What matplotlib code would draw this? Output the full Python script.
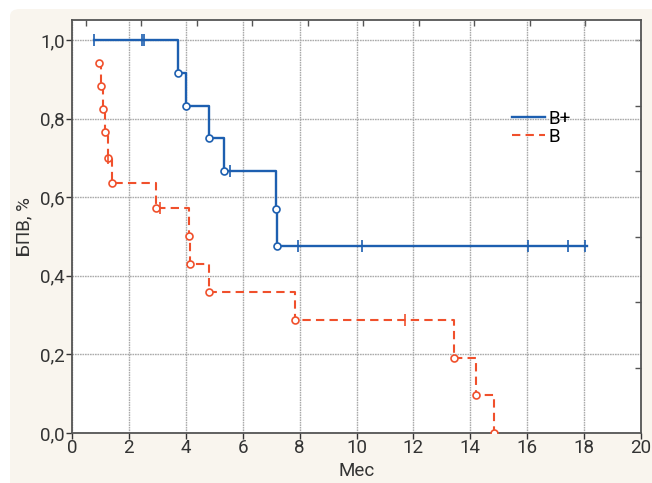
import matplotlib
matplotlib.use("Agg")
import matplotlib.pyplot as plt
from matplotlib.patches import FancyBboxPatch
from matplotlib.lines import Line2D

plt.rcParams['font.family'] = ['Roboto', 'DejaVu Sans']

# ---- data ----
bplus_start = 0.78
bplus_end = 18.1
bplus_times = [3.72, 4.0, 4.82, 5.34, 7.17, 7.22]
bplus_surv = [0.917, 0.833, 0.750, 0.667, 0.571, 0.476]
bplus_censor_t = [0.78, 2.46, 2.53, 5.55, 7.94, 10.2, 16.03, 17.43, 18.02]

b_times = [0.95, 1.02, 1.10, 1.15, 1.26, 1.40, 2.95, 4.12, 4.15, 4.82, 7.84, 13.43, 14.2, 14.83]
b_surv = [0.941, 0.882, 0.824, 0.765, 0.701, 0.637, 0.573, 0.501, 0.430, 0.358, 0.287, 0.191, 0.096, 0.0]
b_censor_t = [1.27, 3.1, 11.7]

series_labels = ['В+', 'В']
x_ticks = [0, 2, 4, 6, 8, 10, 12, 14, 16, 18, 20]
y_ticks = [0.0, 0.2, 0.4, 0.6, 0.8, 1.0]
y_ticklabels = ['0,0', '0,2', '0,4', '0,6', '0,8', '1,0']
top_minor = [0.49, 2.44, 4.39, 6.34, 8.29, 10.24, 12.19, 14.14, 16.09, 18.04]
right_minor = [1/6, 2/6, 3/6, 4/6, 5/6, 1.0]

BLUE = '#1d5fb0'
RED = '#f0502c'
CREAM = '#f9f5ee'
FS = 13.5

fig = plt.figure(figsize=(6.52, 4.83), dpi=100, facecolor='white')
bg = FancyBboxPatch((10/652, -0.05), 1.1, 1.05 - 9/483, boxstyle='round,pad=0,rounding_size=0.015',
                    transform=fig.transFigure, facecolor=CREAM, edgecolor='none', zorder=-10)
fig.patches.append(bg)

ax = fig.add_axes([72/652, 50/483, 569/652, 413/483])
ax.set_facecolor('white')


def level_at(times, surv, start_level, t):
    lvl = start_level
    for ti, si in zip(times, surv):
        if ti <= t:
            lvl = si
    return lvl

# B+ curve
bx = [bplus_start] + bplus_times + [bplus_end]
by = [1.0] + bplus_surv + [bplus_surv[-1]]
ax.plot(bx, by, drawstyle='steps-post', color=BLUE, lw=1.7, zorder=3)
ax.plot(bplus_times, bplus_surv, 'o', ms=5, mfc='white', mec=BLUE, mew=1.2, zorder=4)
ax.plot(bplus_censor_t, [level_at(bplus_times, bplus_surv, 1.0, t) for t in bplus_censor_t],
        '|', ms=8, color=BLUE, mew=1.2, zorder=4)

# B curve
ax.plot(b_times, b_surv, drawstyle='steps-post', color=RED, lw=1.5, ls=(0, (4, 2.5)), zorder=3)
ax.plot(b_times, b_surv, 'o', ms=5, mfc='white', mec=RED, mew=1.2, zorder=4)
ax.plot(b_censor_t, [level_at(b_times, b_surv, 1.0, t) for t in b_censor_t],
        '|', ms=8, color=RED, mew=1.2, zorder=4)

ax.set_xlim(0, 20)
ax.set_ylim(0, 1.051)
ax.set_xticks(x_ticks)
ax.set_yticks(y_ticks)
ax.set_yticklabels(y_ticklabels)
ax.grid(True, color='#ababab', lw=1.0, ls=(0, (1.2, 0.6)))
ax.set_axisbelow(True)
for s in ax.spines.values():
    s.set_color('#555555')
    s.set_linewidth(1.3)
ax.tick_params(axis='both', labelsize=FS, colors='#333333', length=4, width=1, direction='out', pad=1)
ax.tick_params(axis='x', pad=0)

secx = ax.secondary_xaxis('top')
secx.set_xticks(top_minor)
secx.set_xticklabels([])
secx.tick_params(direction='in', length=4, width=1, colors='#555555')
secx.spines['top'].set_visible(False)
secy = ax.secondary_yaxis('right')
secy.set_yticks(right_minor)
secy.set_yticklabels([])
secy.tick_params(direction='in', length=4, width=1, colors='#555555')
secy.spines['right'].set_visible(False)

ax.set_xlabel('Мес', fontsize=FS, color='#333333', labelpad=4)
ax.set_ylabel('БПВ, %', fontsize=FS, color='#333333', labelpad=5)

handles = [Line2D([0], [0], color=BLUE, lw=1.7),
           Line2D([0], [0], color=RED, lw=1.5, ls=(0, (4, 2.5)))]
ax.legend(handles, series_labels, loc='upper left', bbox_to_anchor=(0.773, 0.782), frameon=False,
          fontsize=FS, handlelength=1.75, handletextpad=0.2, labelspacing=0.0, borderpad=0,
          borderaxespad=0)

fig.savefig('out.png', dpi=100, facecolor=fig.get_facecolor())
